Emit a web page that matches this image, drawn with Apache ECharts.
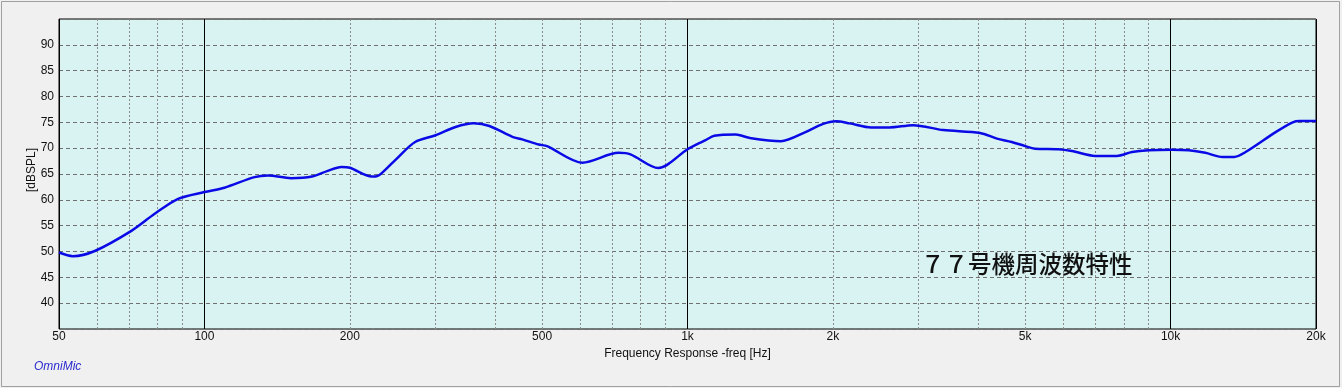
<!DOCTYPE html>
<html><head><meta charset="utf-8">
<script src="https://cdn.jsdelivr.net/npm/echarts@6/dist/echarts.min.js"></script>
<style>html,body{margin:0;padding:0;background:#f0f0f0}#c{width:1342px;height:388px}</style>
</head><body><div id="c"></div>
<script>
// Frequency (Hz) and SPL (dB)
const freqs = [50, 53.4, 59.3, 70.6, 78.9, 88.2, 100, 110, 127, 135.5, 151, 167, 180, 192, 200, 222, 229, 237, 248, 273, 301, 331, 361, 389, 434, 455, 492, 512, 606, 720, 762, 870, 1000, 1045, 1090, 1136, 1259, 1342, 1560, 1759, 1903, 2030, 2165, 2400, 2620, 2930, 3385, 4032, 4370, 4690, 5000, 5240, 5860, 6246, 6980, 7740, 8320, 9010, 10050, 10900, 11800, 12800, 13540, 14300, 16530, 17900, 18500, 20000];
const spl = [49.8, 49.1, 50.1, 54.0, 57.3, 60.2, 61.5, 62.35, 64.4, 64.7, 64.2, 64.5, 65.6, 66.35, 66.2, 64.5, 64.7, 65.85, 67.65, 71.2, 72.5, 74.1, 74.8, 74.3, 72.2, 71.7, 70.7, 70.4, 67.2, 69.1, 68.8, 66.15, 69.8, 70.75, 71.55, 72.4, 72.65, 72.0, 71.35, 73.15, 74.65, 75.2, 74.8, 74.0, 74.0, 74.45, 73.5, 72.95, 71.85, 71.2, 70.4, 69.9, 69.8, 69.45, 68.5, 68.5, 69.25, 69.6, 69.7, 69.6, 69.1, 68.3, 68.3, 69.25, 73.15, 75.0, 75.25, 75.25];
const minorGrid = [60, 70, 80, 90, 200, 300, 400, 500, 600, 700, 800, 900, 2000, 3000, 4000, 5000, 6000, 7000, 8000, 9000];
const minorLabels = [200, 500, 2000, 5000];
const yTickLabels = [40, 45, 50, 55, 60, 65, 70, 75, 80, 85, 90];
const titleText = '７７号機周波数特性';
const yName = '[dBSPL]';

const FONT = 'Liberation Sans, Arial, sans-serif';
function fmtHz(v) {
  v = Math.round(v);
  return v >= 1000 ? (v / 1000) + 'k' : String(v);
}
const chart = echarts.init(document.getElementById('c'), null, {renderer: 'canvas'});
chart.setOption({
  backgroundColor: '#f0f0f0',
  animation: false,
  grid: {left: 59, right: 26, top: 19, bottom: 59, show: true, backgroundColor: '#d9f3f3', borderColor: '#000', borderWidth: 1},
  xAxis: {
    type: 'log', logBase: 10, min: 50, max: 20000,
    name: 'Frequency Response -freq [Hz]', nameLocation: 'middle', nameGap: 17,
    nameTextStyle: {color: '#111', fontSize: 12, fontFamily: FONT},
    axisLine: {show: false}, axisTick: {show: false},
    axisLabel: {color: '#111', fontSize: 12, fontFamily: FONT, margin: 2, formatter: fmtHz, showMinLabel: true, showMaxLabel: true},
    splitLine: {show: true, lineStyle: {color: '#000', width: 1, type: 'solid'}},
    minorSplitLine: {show: false}
  },
  yAxis: {
    type: 'value', min: 35, max: 95, interval: 5,
    axisLine: {show: false}, axisTick: {show: false},
    axisLabel: {color: '#111', fontSize: 12, fontFamily: FONT, margin: 5,
      formatter: v => yTickLabels.indexOf(v) >= 0 ? String(v) : ''},
    splitLine: {show: true, lineStyle: {color: '#707070', width: 1, type: [4, 3]}}
  },
  series: [
    {
      type: 'line', data: [], z: 1, silent: true,
      markLine: {
        z: 1, silent: true, symbol: ['none', 'none'], animation: false,
        lineStyle: {color: '#8c8c8c', width: 1, type: [2, 2]},
        label: {show: true, position: 'start', distance: 2, color: '#111', fontSize: 12, fontFamily: FONT,
          formatter: p => minorLabels.indexOf(p.value) >= 0 ? fmtHz(p.value) : ''},
        emphasis: {disabled: true},
        data: minorGrid.map(f => ({xAxis: f}))
      }
    },
    {
      type: 'line', z: 3, smooth: 0.3, showSymbol: false, symbol: 'none',
      lineStyle: {color: '#0a0ae6', width: 2.5},
      data: freqs.map((f, i) => [f, spl[i]])
    }
  ],
  graphic: [
    {type: 'rect', silent: true, shape: {x: 1.5, y: 1.5, width: 1338, height: 385}, style: {fill: 'none', stroke: '#a0a0a0', lineWidth: 1}},
    {type: 'text', silent: true, x: 32, y: 170, rotation: Math.PI / 2,
      style: {text: yName, fill: '#111', font: '12px ' + FONT, align: 'center', verticalAlign: 'middle'}},
    {type: 'text', silent: true, left: 34, top: 361, style: {text: 'OmniMic', fill: '#2b2bd0', font: 'italic 12px ' + FONT}},
    {type: 'text', silent: true, z: 10, left: 921, top: 252, style: {text: titleText, fill: '#111', font: '500 23.5px "Noto Sans CJK JP", sans-serif'}}
  ]
});
</script>
</body></html>
